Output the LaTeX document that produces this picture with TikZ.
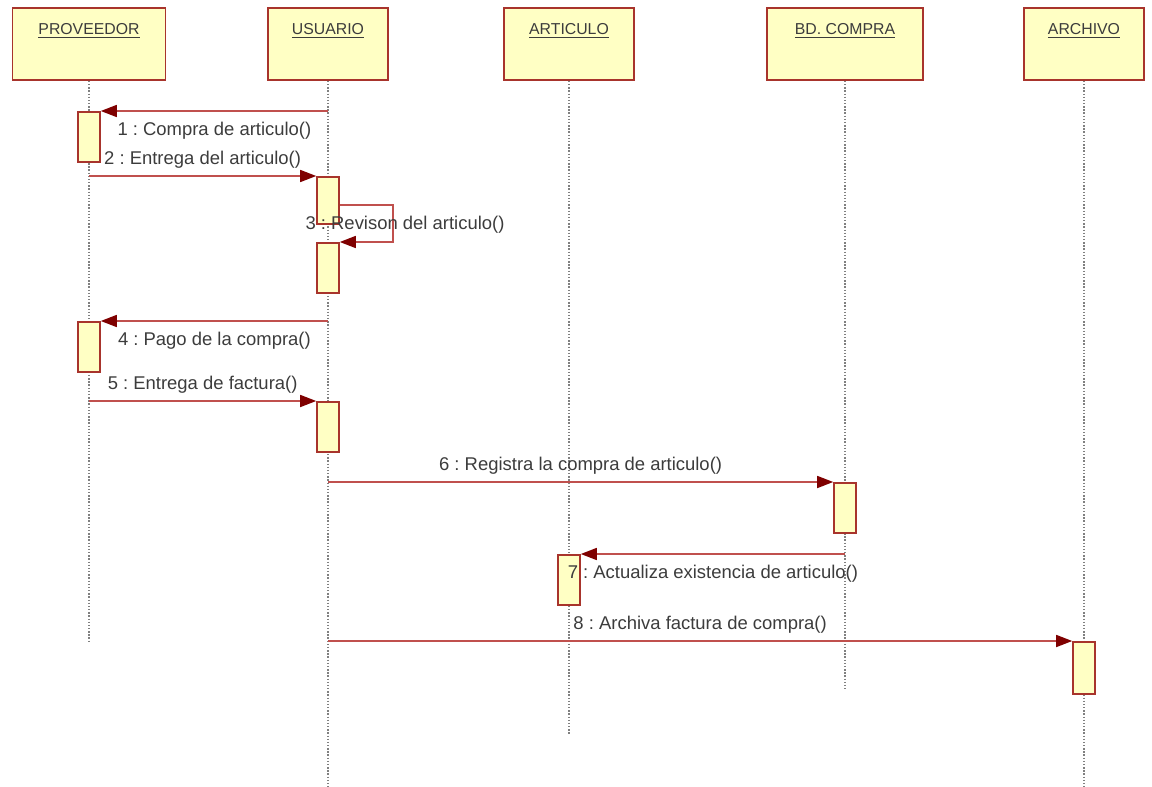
\documentclass[tikz,border=0pt]{standalone}
\usepackage{fontspec}
\setmainfont{Liberation Sans}
\frenchspacing
\usetikzlibrary{arrows.meta, positioning}
\definecolor{colorBox}{HTML}{FFFFC4}
\definecolor{colorEdge}{HTML}{A8342C}
\definecolor{colorMsg}{HTML}{C0504D}
\definecolor{colorTip}{HTML}{7F0000}
\definecolor{colorLife}{HTML}{808080}
\definecolor{colorText}{HTML}{3C3C3C}
\tikzset{
  head/.style={draw=colorEdge, fill=colorBox, line width=1pt, minimum height=1.44cm, inner sep=0pt},
  act/.style={draw=colorEdge, fill=colorBox, line width=0.9pt, minimum width=0.44cm, minimum height=1cm, anchor=north, inner sep=0pt},
  life/.style={colorLife, densely dotted, line width=0.8pt},
  msg/.style={colorMsg, line width=0.85pt, -{Triangle[length=0.32cm, width=0.24cm, color=colorTip, fill=colorTip]}},
  lbl/.style={text=colorText, font=\fontsize{10.5}{12}\selectfont, inner sep=0pt},
  htext/.style={text=colorText, font=\fontsize{9}{10}\selectfont, inner sep=0pt}
}

\begin{document}
\begin{tikzpicture}[x=0.02cm, y=-0.02cm]
\useasboundingbox (0,0) rectangle (1152,787);
% objects
\node[head, minimum width=3.06cm] (prov) at (89,44) {};
\node[head, minimum width=2.4cm] (usu) at (328,44) {};
\node[head, minimum width=2.6cm] (art) at (569,44) {};
\node[head, minimum width=3.12cm] (bd) at (845,44) {};
\node[head, minimum width=2.4cm] (arc) at (1084,44) {};
\node[htext, below=0.32cm of prov.north] (provName) {\underline{PROVEEDOR}};
\node[htext, below=0.32cm of usu.north] (usuName) {\underline{USUARIO}};
\node[htext, below=0.32cm of art.north] (artName) {\underline{ARTICULO}};
\node[htext, below=0.32cm of bd.north] (bdName) {\underline{BD. COMPRA}};
\node[htext, below=0.32cm of arc.north] (arcName) {\underline{ARCHIVO}};
% lifelines
\coordinate (provEnd) at (89,643);
\coordinate (usuEnd) at (328,787);
\coordinate (artEnd) at (569,735);
\coordinate (bdEnd) at (845,690);
\coordinate (arcEnd) at (1084,787);
\draw[life] (prov.south) -- (provEnd);
\draw[life] (usu.south) -- (usuEnd);
\draw[life] (art.south) -- (artEnd);
\draw[life] (bd.south) -- (bdEnd);
\draw[life] (arc.south) -- (arcEnd);
% activations
\node[act] (p1) at (89,111) {};
\node[act, minimum height=0.94cm] (u1) at (328,176) {};
\node[act] (u2) at (328,242) {};
\node[act] (p2) at (89,321) {};
\node[act] (u3) at (328,401) {};
\node[act] (b1) at (845,482) {};
\node[act] (a1) at (569,554) {};
\node[act, minimum height=1.04cm] (r1) at (1084,641) {};
% messages
\draw[msg] (usu |- p1.north) -- (p1.north east) node[lbl, midway, yshift=-11pt] {1 : Compra de articulo()};
\draw[msg] (prov |- u1.north) -- (u1.north west) node[lbl, midway, yshift=9.5pt] {2 : Entrega del articulo()};
\draw[msg] (u1.north east) ++(0,29) -- ++(53,0) |- (u2.north east);
\node[lbl] (rev) at (405,225) {3 : Revison del articulo()};
\draw[msg] (usu |- p2.north) -- (p2.north east) node[lbl, midway, yshift=-11pt] {4 : Pago de la compra()};
\draw[msg] (prov |- u3.north) -- (u3.north west) node[lbl, midway, yshift=9.5pt] {5 : Entrega de factura()};
\draw[msg] (usu |- b1.north) -- (b1.north west) node[lbl, midway, yshift=9.5pt] {6 : Registra la compra de articulo()};
\draw[msg] (bd |- a1.north) -- (a1.north east) node[lbl, midway, yshift=-11pt] {7 : Actualiza existencia de articulo()};
\draw[msg] (usu |- r1.north) -- (r1.north west) node[lbl, midway, yshift=9.5pt] {8 : Archiva factura de compra()};
\end{tikzpicture}
\end{document}
